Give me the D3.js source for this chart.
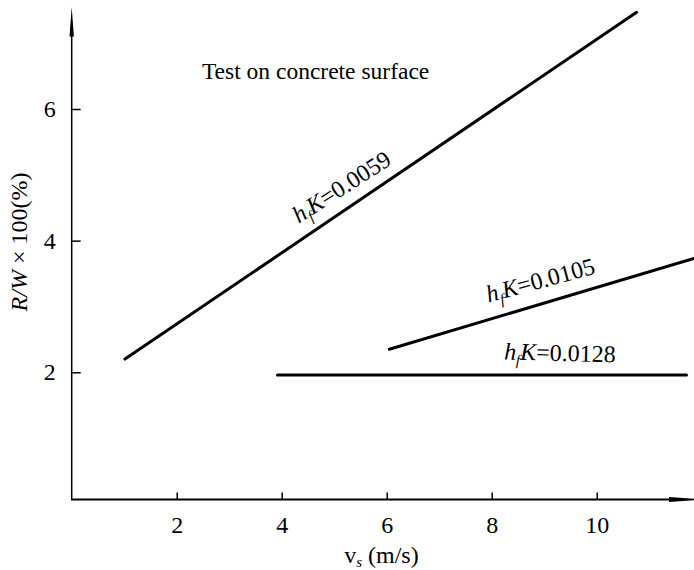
<!DOCTYPE html>
<html>
<head>
<meta charset="utf-8">
<script src="https://cdn.jsdelivr.net/npm/d3@7/dist/d3.min.js"></script>
<style>
  html, body { margin: 0; padding: 0; background: #fff; }
  svg { display: block; }
  text { font-family: "Liberation Serif", "Times New Roman", serif; fill: #000; }
</style>
</head>
<body>
<svg id="chart" width="694" height="570"></svg>
<script>
// Rolling resistance ratio vs. sliding speed, test on concrete surface
const seriesNames = ["0.0059", "0.0105", "0.0128"];
const seriesX = [[1.015, 10.76], [6.05, 11.85], [3.92, 11.71]];
const seriesY = [[2.20, 7.47], [2.35, 3.73], [1.96, 1.96]];
const xTicks = [2, 4, 6, 8, 10];
const yTicks = [2, 4, 6];
const noteText = "Test on concrete surface";

const svg = d3.select("#chart");

const x = d3.scaleLinear().domain([0, 11.853]).range([71.7, 694]);
const y = d3.scaleLinear().domain([0.067, 7.55]).range([499.5, 7]);

const x0 = x(0), y0 = y(0.067);

// axes lines with arrow heads
svg.append("line").attr("x1", x0).attr("y1", y0).attr("x2", x0).attr("y2", y(7.3))
  .attr("stroke", "#000").attr("stroke-width", 1.5);
svg.append("path")
  .attr("d", `M${x0},${y(7.55)} L${x0 - 2.2},${y(7.1)} L${x0 + 2.2},${y(7.1)} Z`)
  .attr("fill", "#000");
svg.append("line").attr("x1", x0 - 0.75).attr("y1", y0).attr("x2", 680).attr("y2", y0)
  .attr("stroke", "#000").attr("stroke-width", 2);
svg.append("path")
  .attr("d", `M669,${y0 - 2.6} L702,${y0} L669,${y0 + 2.6} Z`)
  .attr("fill", "#000");

// ticks and tick labels
const xAxis = svg.append("g").attr("transform", `translate(0,${y0})`)
  .call(d3.axisBottom(x).tickValues(xTicks).tickSizeInner(-7).tickSizeOuter(0).tickPadding(16));
const yAxis = svg.append("g").attr("transform", `translate(${x0},0)`)
  .call(d3.axisLeft(y).tickValues(yTicks).tickSizeInner(-9).tickSizeOuter(0).tickPadding(16));
[xAxis, yAxis].forEach(g => {
  g.select(".domain").remove();
  g.selectAll(".tick line").attr("stroke", "#000").attr("stroke-width", 1.5);
  g.selectAll(".tick text")
    .attr("fill", "#000")
    .style("font-family", '"Liberation Serif", "Times New Roman", serif')
    .style("font-size", "24px");
});

// data lines
const line = d3.line().x(d => x(d[0])).y(d => y(d[1]));
seriesNames.forEach((name, i) => {
  const pts = seriesX[i].map((v, j) => [v, seriesY[i][j]]);
  svg.append("path").datum(pts).attr("d", line)
    .attr("fill", "none").attr("stroke", "#000").attr("stroke-width", 3)
    .attr("stroke-linecap", "round");
});

// line labels: placed along each line, parallel to it
const labelT = [0.446, 0.517, 0.69];
const labelOffset = [13, 15, 14];
function hfkLabel(g, value, size) {
  const t = g.append("text").style("font-size", size + "px").attr("text-anchor", "middle");
  t.append("tspan").style("font-style", "italic").text("h");
  t.append("tspan").style("font-style", "italic").style("font-size", (size * 0.62) + "px")
    .attr("dy", size * 0.22).text("f");
  t.append("tspan").style("font-style", "italic").attr("dy", -size * 0.22).text("K");
  t.append("tspan").text("=" + value);
  return t;
}
seriesNames.forEach((name, i) => {
  const ax = x(seriesX[i][0]), ay = y(seriesY[i][0]);
  const bx = x(seriesX[i][1]), by = y(seriesY[i][1]);
  const ang = Math.atan2(by - ay, bx - ax);
  const px = ax + (bx - ax) * labelT[i], py = ay + (by - ay) * labelT[i];
  // normal pointing up-left of the line direction
  const nx = Math.sin(ang), ny = -Math.cos(ang);
  const cx = px + nx * labelOffset[i], cy = py + ny * labelOffset[i];
  const g = svg.append("g")
    .attr("transform", `translate(${cx},${cy}) rotate(${ang * 180 / Math.PI + 1.5})`);
  hfkLabel(g, name, 24);
});

// note
svg.append("text").attr("x", x(2.48)).attr("y", y(6.46))
  .style("font-size", "23.5px").text(noteText);

// axis titles
const yt = svg.append("text")
  .attr("transform", `translate(27,${y(3.98)}) rotate(-90)`)
  .attr("text-anchor", "middle").style("font-size", "24px");
yt.append("tspan").style("font-style", "italic").text("R/W");
yt.append("tspan").text(" \u00d7 100(%)");

const xt = svg.append("text").attr("x", x(5.9)).attr("y", 563)
  .attr("text-anchor", "middle").style("font-size", "24px");
xt.append("tspan").text("v");
xt.append("tspan").style("font-style", "italic").style("font-size", "15px").attr("dy", 4).text("s");
xt.append("tspan").attr("dy", -4).text(" (m/s)");
</script>
</body>
</html>
